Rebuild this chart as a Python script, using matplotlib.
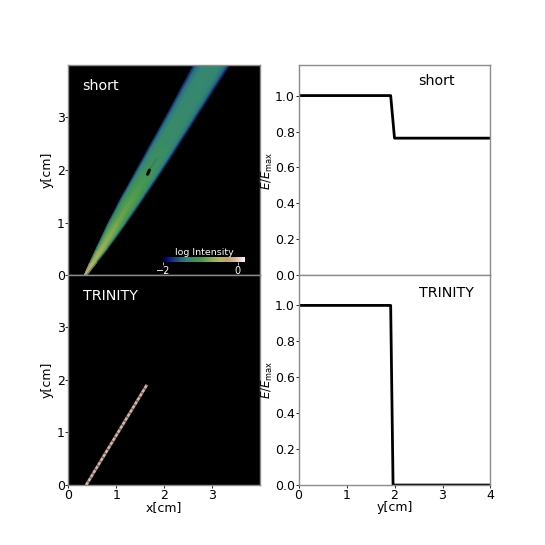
import matplotlib
matplotlib.use('Agg')
import matplotlib.pyplot as plt
import numpy as np

# beam outline [cm]
beam_y = [0.0, 0.25, 0.5, 1.0, 1.5, 2.0, 2.5, 3.0, 3.5, 4.0]
beam_left = [0.34, 0.45, 0.57, 0.82, 1.10, 1.40, 1.70, 2.00, 2.29, 2.58]
beam_right = [0.38, 0.61, 0.83, 1.23, 1.61, 1.98, 2.33, 2.68, 3.03, 3.38]

# log intensity across the beam, left edge to right edge, one row per beam_y
profile_pos = [0.0, 0.05, 0.12, 0.25, 0.5, 0.75, 0.88, 0.95, 1.0]
log_intensity = [
    [-0.35, -0.3, -0.25, -0.2, -0.15, -0.2, -0.25, -0.3, -0.35],
    [-2.0, -1.4, -0.95, -0.6, -0.42, -0.6, -0.95, -1.4, -2.0],
    [-2.0, -1.5, -1.05, -0.75, -0.55, -0.75, -1.05, -1.5, -2.0],
    [-2.0, -1.6, -1.2, -0.95, -0.78, -0.95, -1.2, -1.6, -2.0],
    [-2.0, -1.65, -1.25, -1.05, -0.92, -1.05, -1.25, -1.65, -2.0],
    [-2.0, -1.7, -1.35, -1.15, -1.08, -1.15, -1.35, -1.7, -2.0],
    [-2.0, -1.7, -1.4, -1.22, -1.2, -1.22, -1.4, -1.7, -2.0],
    [-2.0, -1.72, -1.42, -1.26, -1.22, -1.26, -1.42, -1.72, -2.0],
    [-2.0, -1.75, -1.45, -1.28, -1.25, -1.28, -1.45, -1.75, -2.0],
    [-2.0, -1.75, -1.48, -1.3, -1.27, -1.3, -1.48, -1.75, -2.0],
]

# dark spot and the faint streak behind it
spot_x = [1.65, 1.69]
spot_y = [1.92, 2.00]
streak_x = [1.69, 1.84]
streak_y = [2.00, 2.22]

# TRINITY track ends [cm]
track_x = [0.375, 1.64]
track_y = [0.0, 1.91]

# energy curves
y_short = [0.0, 1.92, 2.0, 4.0]
e_short = [1.0, 1.0, 0.763, 0.763]
y_trinity = [0.0, 1.92, 1.97, 4.0]
e_trinity = [1.0, 1.0, 0.0, 0.0]

plt.rcParams['font.size'] = 9
spine_col = '#8c8c8c'

fig, axes = plt.subplots(2, 2, figsize=(5.45, 5.45), dpi=100)
fig.subplots_adjust(left=0.125, right=0.9, top=0.88, bottom=0.11, hspace=0, wspace=0.2)
cmap = plt.get_cmap('gist_earth')

# top left, beam
ax = axes[0, 0]
ax.set_facecolor('black')
left = np.array(beam_left)
right = np.array(beam_right)
pos = np.array(profile_pos)
X = left[:, None] + (right - left)[:, None] * pos[None, :]
Y = np.array(beam_y)[:, None] * np.ones((1, len(profile_pos)))
im = ax.pcolormesh(X, Y, np.array(log_intensity), cmap=cmap, vmin=-2.0, vmax=0.2,
                   shading='gouraud', rasterized=True)
ax.set_xlim(0, 3.99)
ax.set_ylim(0, 3.99)
ax.set_xticks([])
ax.set_yticks([0, 1, 2, 3])
ax.text(0.3, 3.6, 'short', color='white', fontsize=10.3, va='center')
ax.plot(streak_x, streak_y, color='#1f5f78', lw=1.2, alpha=0.35)
ax.plot(spot_x, spot_y, color='black', lw=2.2, solid_capstyle='round')

cax = ax.inset_axes([0.495, 0.062, 0.427, 0.024])
cb = fig.colorbar(im, cax=cax, orientation='horizontal')
cb.set_ticks([-2, 0])
cb.ax.tick_params(colors='white', labelsize=7, length=2, width=0.5, pad=1)
cb.outline.set_visible(False)
cb.ax.set_title('log Intensity', color='white', fontsize=6.8, pad=1.5)

# bottom left, TRINITY track
ax = axes[1, 0]
ax.set_facecolor('black')
ax.plot(track_x, track_y, color='#7d655b', lw=2.2, solid_capstyle='butt')
ax.plot(track_x, track_y, color='#d6b6a8', lw=1.7, ls=(0, (1.3, 0.7)))
ax.set_xlim(0, 3.99)
ax.set_ylim(0, 3.99)
ax.set_xticks([0, 1, 2, 3])
ax.set_yticks([0, 1, 2, 3])
ax.set_xlabel('x[cm]')
ax.text(0.3, 3.6, 'TRINITY', color='white', fontsize=10.3, va='center')

# right column, energy
ax = axes[0, 1]
ax.plot(y_short, e_short, color='black', lw=2)
ax.set_xlim(0, 4)
ax.set_ylim(0, 1.168)
ax.set_xticks([])
ax.text(2.5, 1.08, 'short', fontsize=10.3, va='center')

ax = axes[1, 1]
ax.plot(y_trinity, e_trinity, color='black', lw=2)
ax.set_xlim(0, 4)
ax.set_ylim(0, 1.168)
ax.set_xticks([0, 1, 2, 3, 4])
ax.set_xlabel('y[cm]')
ax.text(2.5, 1.07, 'TRINITY', fontsize=10.3, va='center')

for ax in axes[:, 0]:
    ax.set_ylabel('y[cm]')
    ax.yaxis.set_label_coords(-0.073, 0.5)

for ax in axes[:, 1]:
    ax.set_yticks([0, 0.2, 0.4, 0.6, 0.8, 1.0])
    ax.set_ylabel(r'$E/E_{\rm max}$', fontsize=8.5)
    ax.yaxis.set_label_coords(-0.125, 0.5)

for ax in axes[1, :]:
    ax.xaxis.set_label_coords(0.5, -0.075)

for ax in axes.flat:
    for s in ax.spines.values():
        s.set_color(spine_col)
        s.set_linewidth(1.0)
    ax.tick_params(length=2, width=0.6, pad=0.5)

fig.savefig('out.png', dpi=100)
